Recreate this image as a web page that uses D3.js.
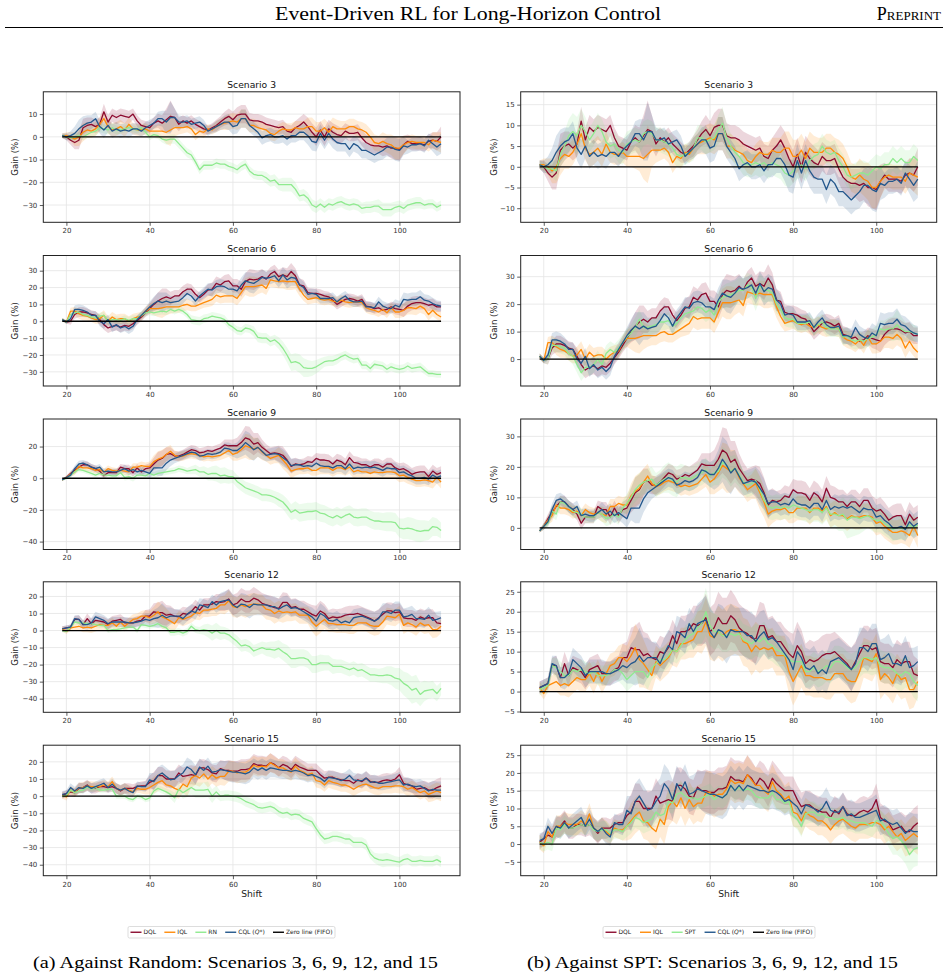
<!DOCTYPE html>
<html><head><meta charset="utf-8">
<script src="https://cdn.jsdelivr.net/npm/d3@7"></script>
<style>body{margin:0;background:#fff;} svg{display:block;}</style>
</head><body><svg id="c" width="948" height="979"></svg>
<script>
const shifts = d3.range(19, 111);
const xTicks = [20, 40, 60, 80, 100];

// ---------- Scenario 3 ----------
const dql3 = [0.5,0,-1.5,-2.5,-1.5,4,5,5.5,4.5,5.5,11,
 6.5,9.5,8.5,9.5,9,8.5,10,7,5,4.5,
 4,6,7,6,7.5,9,8.5,5.5,7,6,
 7,5.5,4.5,3.5,3,4,5,6.5,8,9,
 7.5,9.5,10,10,7.5,7,7,6.5,5.5,5,
 4.5,4,4.5,2.5,2,4,5,6.5,4.5,2,
 0,3,0,3.5,2,1,0.5,2.5,1.5,1.5,
 2,-0.5,-2.5,-3.5,-4,-4,-4.5,-4,-5,-5,
 -5.5,-3.5,-2,-3,-3,-3,-3.5,-2,-1.5,-2,0];
const iql3 = [0.5,0.5,0,-1,0,2,3,2.5,3.5,5.5,8,
 4.5,3,3.5,4.5,3,5.5,3.5,3,3,3.5,
 2.5,2.5,2.5,2.5,2,3,4,4,4,4.5,
 3.5,1,2.5,2,3.5,3,4.5,5.5,6,6.5,
 7,6.5,8,8,5,5,4,3.5,3,1.5,
 1,2.5,3.5,3,3,4,3.5,3.5,4.5,4.5,
 2.5,2.5,4,2,4.5,3.5,3.5,3.5,4.5,4.5,
 3.5,3,2,0,-2.5,-3,-2,-3,-3.5,-5,
 -5,-3.5,-2.5,-2,-2.5,-2.5,-2.5,-3.5,-1.5,-2,-2.5];
const cql3 = [0.5,0,0.5,1.5,3.5,5,6,6.5,8,4.5,3,
 5,2.5,3.5,2.5,3,2.5,3.5,3.5,2.5,4,
 5,6,8,8,6.5,8.5,8.5,6.5,6.5,7,
 5.5,6,6.5,5,2.5,3.5,4.5,5.5,6.5,6.5,
 4.5,5,8,8,5,3.5,2,-0.5,0.5,1,
 0,0,0.5,-1,0.5,0.5,2,2,0.5,-2,
 -2.5,1.5,-1.5,1.5,-1,-2.5,-3,-3,-5.5,-3,
 -4,-6,-6,-7,-8,-7,-6,-4.5,-4.5,-5.5,
 -6,-4,-4.5,-3.5,-3.5,-3,-4,-1.5,-3,-4.5,-3];
const rn3 = [0.5,0,-0.5,0,0.5,0,1,2,2.5,4,3.5,
 3,4,3,3,3.5,4,3.5,3,4,2,
 0,1,0.5,-1,-1.5,-1,-1,-3,-5,-7,
 -8,-11,-14.5,-12.5,-12.5,-12.5,-11.5,-12,-12,-13,
 -13.5,-14.5,-13,-12,-15,-16.5,-17,-17,-18,-19.5,
 -19,-21,-21,-21,-21,-23,-26,-25.5,-27,-30,
 -31,-29.5,-31,-29.5,-30,-29,-28.5,-29.5,-30,-29.5,
 -30,-31.5,-31,-31,-30.5,-30.5,-32,-32,-32,-31,
 -30.5,-31.5,-30,-29.5,-29,-29,-30,-29.5,-29.5,-31,-30];
const spt3 = [0.5,0,-0.5,-0.5,-1,3,5,7.5,8.5,7.5,10,
 8.5,6.5,8,10,8.5,6,5,5.5,4,3.5,
 5.5,6,6.5,6,8,8.5,8,6.5,6.5,6,
 5.5,4.5,3,2.5,3,3.5,4.5,7,7,6,
 6.5,7,9,10.5,7,5,3.5,2.5,1,0.5,
 0.5,1,0.5,1,0,1,0.5,0,-1.5,-2,
 -1,0,0.5,-0.5,1.5,2.5,3,5,3.5,3,
 3.5,1.5,0,-2,-2.5,-2,-1.5,-1.5,-2,-1,
 0,-0.5,0.5,0.5,2,1,2,1,1,2.5,1.5];
const std3 = [1,1.5,2,3,4,4,3.5,3,3,3,3.5,
 3,3,3,3,3,3,2.5,2.5,2.5,2.5,
 2.5,2.5,3,3.5,5,7,4,3,2.5,2.5,
 2.5,2.5,2.5,2.5,2,2,2.5,2.5,3,3.5,
 3.5,3.5,4,4,3,3,3,3,3,3,
 3,3,3,3,3,3,3.5,3.5,4,4,
 4,4,4,4,4,4,3.5,3.5,3.5,3.5,
 3.5,3.5,3.5,3.5,3.5,3.5,4,4,4.5,5,
 5,4,3,3,3,3,3,3,3.5,4,4.5];
const stdRN3 = [1,1,1,1.5,1.5,1.5,1.5,2,2,2,2,
 2,2,2,1.5,1.5,1.5,1.5,1.5,1.5,1.5,
 1.5,1.5,1.5,1.5,2,2,2,2,2,2,
 2,2,2,2,2,2,2,2,2,2,
 2,2,2,2,2,2,2,2,2.5,2.5,
 2.5,2.5,3,3,3,3,2.5,2.5,2.5,2.5,
 2.5,2.5,2.5,2.5,2.5,2.5,2.5,2.5,2.5,2.5,
 2.5,2.5,2.5,2.5,2.5,3,3,3,3,2.5,
 2.5,2.5,2.5,2.5,2.5,2.5,2,2,2,2,2];
const stdSPT3 = [1,1,1.5,2,2.5,3,3.5,4,4.5,4.5,4,
 3.5,3,3,3,3,3,3,3,3,3,
 3,3,3,3,3,3,3,3,3,3,
 3,3,3,2.5,2.5,2.5,3,3,3,3,
 3,3,3.5,4,3.5,3,3,3,3,3,
 3,3,3,3,3,3,3,3,3,3,
 3,3,3,3,3,3,3,3,3,3,
 3,3,3,3,3,3,3,3,3,3,
 3,3,3,3,3,3,3,3,3,3,3];

// ---------- Scenario 6 ----------
const dql6 = [1,-0.5,0,4,5.5,5.5,5,4,3.5,1,-2,
 -4,-3,-2.5,-3.5,-2.5,-3,-1.5,0.5,2.5,5,
 7.5,10,12,13.5,14.5,13.5,15,15,17.5,19,
 19,16,14,16,18.5,19,22.5,21.5,23.5,24,
 21,21,19,23.5,25,24.5,25,26.5,25,28,
 29.5,26.5,27.5,26.5,29.5,27,21.5,21,17,16.5,
 16.5,16,15,14.5,12.5,10,11.5,13,13.5,13,
 12,13,9,8.5,7.5,8,6.5,7,8.5,7.5,
 7,6.5,9,10.5,11,11,10.5,9.5,10,8.5,8.5];
const iql6 = [1,-0.5,6,6,4.5,3.5,3,2,1,1.5,3.5,
 0,2.5,1,1.5,1.5,0,1.5,2.5,3,6,
 7.5,7.5,7.5,8,8.5,8.5,8.5,8.5,9.5,10,
 9,9,10,11,12,13,15.5,14.5,15,15,
 15,13.5,17,20.5,20.5,20.5,21,21.5,19.5,24.5,
 24,23.5,24,23.5,23.5,23.5,19,15.5,13,13.5,
 14,13,12.5,13,12,11.5,12.5,11.5,11,11.5,
 11.5,11,8,7,6.5,5.5,7,5,8,5.5,
 5.5,6.5,8,8,7.5,9,7.5,4,6.5,4,2.5];
const cql6 = [1,-0.5,1.5,7,7,6.5,5.5,3.5,3.5,0,-1.5,
 1,-3.5,-2,-4,-3,-4.5,-3,1,3.5,6,
 8.5,10.5,12,11,12,11,11.5,12,14,16.5,
 15,12,15,17,19,18.5,20.5,21,20.5,19,
 19,18,21.5,24,23,22.5,24,26,25.5,26,
 27,24,27.5,24.5,26,25.5,21.5,20,16,16.5,
 16,13.5,13.5,13.5,14,11.5,13.5,15,12.5,11.5,
 11.5,12,8.5,8.5,8,11.5,9,8,7.5,9.5,
 8.5,13,12.5,13,13,14.5,12.5,12,10.5,9.5,9];
const rn6 = [1,-0.5,4,5,5.5,4,3.5,2.5,2,3,3.5,
 0,1,1,0.5,1.5,0.5,1.5,1.5,3.5,5,
 5.5,5,5.5,6,5.5,7,6,7,6,4,
 1,0.5,0,1.5,2,3,2.5,2,1,-2,
 -3.5,-5.5,-6,-4,-4.5,-6,-9.5,-10,-10,-12,
 -11,-13,-16,-20,-24.5,-24,-25,-27.5,-28,-28,
 -27,-25.5,-24,-23.5,-23.5,-22.5,-21,-20,-21.5,-22.5,
 -22,-26,-26,-28,-25.5,-26,-26.5,-28.5,-27,-28,
 -28.5,-28,-26.5,-28,-27.5,-27,-29,-31,-31,-31.5,-31.5];
const spt6 = [1,-0.5,0,5,5,4.5,4,2,1,-2,-5,
 -3,-3,-2,0,-2,2,3.5,2.5,4,6,
 8,9.5,11.5,14.5,11.5,11.5,12,12.5,13.5,13.5,
 14,12,13,15,16.5,17,17.5,19,18.5,17,
 18,16,20.5,22.5,23,23.5,24,25,25,27,
 26,22,26.5,25,25,24,20,18,15,14.5,
 14.5,13,13,13,13.5,11.5,12.5,13.5,11.5,11,
 11,11,8,8.5,7,6.5,7,6.5,7.5,8,
 9,11,10.5,11,11,12.5,11,10,10,9.5,9];
const std6 = [1,1,2,2.5,3,3,2.5,2.5,2.5,3,3,
 3,3,3,3,3,3,3,2.5,2.5,2.5,
 3,4,5,6,5,4,3.5,3.5,3.5,3.5,
 3,3,3,3,3.5,4,4,4,4,4,
 4,4,4.5,5,6,6,5,4.5,4,4,
 4,4,4.5,5,5,4.5,4,3.5,3,3,
 3,3,3,3,3,3,3,3,3,3,
 3,3,3,3,3,3,3,3,3,3.5,
 3.5,4,4,4,4,4,3.5,3.5,3.5,3,3];
const stdRN6 = [1,1,1.5,1.5,1.5,1.5,1.5,1.5,2,2,2,
 2,2,2,2,2,2,2,2,2,2,
 2,2,2,2,2,2,2,2,2,2,
 2.5,2.5,2.5,2.5,2.5,2.5,2.5,2.5,2.5,2.5,
 2.5,2.5,2.5,2.5,2.5,3,3,3,3,3,
 3,3.5,4,4.5,5,5,5.5,5.5,5,4.5,
 4,3.5,3,3,3,3,2.5,2.5,2.5,2.5,
 2.5,2.5,2.5,2.5,2.5,2.5,2.5,2.5,2.5,2.5,
 2.5,2.5,2.5,2.5,2.5,2.5,2.5,2,2,2,2];
const stdSPT6 = [1,1,2,2.5,2.5,2.5,2.5,2.5,3,3,3,
 3,3,3,3,3,3,3,3,3,3,
 3,3,3.5,3.5,3,3,3,3,3,3,
 3,3,3,3,3,3,3.5,3.5,3.5,3.5,
 3.5,3.5,4,4,4.5,4.5,4.5,4.5,4.5,4.5,
 4.5,4.5,4.5,4.5,4,4,3.5,3,3,3,
 3,3,3,3,3,3,3,3,3,3,
 3,3,3,3,3,3,3,3,3,3,
 3,3,3.5,4,4.5,5.5,4.5,3.5,3,3,2.5];

// ---------- Scenario 9 ----------
const dql9 = [-1,0.5,3,5,7,8.5,8.5,7,6,4.5,1.5,
 3.5,3.5,3.5,7,6,6,3.5,6.5,4,6,
 6.5,9,11.5,12.5,15,15.5,14,14,15,16.5,
 18,17.5,16,16.5,17.5,17,18,19,21,20.5,
 20.5,20.5,22.5,25.5,24.5,21.5,22.5,19.5,17.5,15.5,
 16,15.5,14.5,11.5,7.5,9,8.5,9,10.5,10,
 12.5,11.5,11.5,11,9,11.5,10.5,8.5,13,10,
 9.5,8.5,8.5,7,8.5,8.5,7,9,9,6.5,
 5.5,6,4.5,2.5,3.5,4,4,1,4.5,2.5,3.5];
const iql9 = [-1,0.5,2.5,4,7.5,6.5,6.5,6,5,5.5,4,
 6,5,4.5,5,4.5,4,7,7,8,7.5,
 7.5,10.5,12,13,15,17,14.5,13.5,14,15,
 15.5,15,14.5,13.5,14,13.5,14,14.5,16,17.5,
 15,16,18,20.5,19.5,18.5,19.5,16.5,14.5,12.5,
 13.5,14.5,11.5,8.5,4.5,5.5,6,6,6.5,5,
 5,6.5,6.5,6.5,5,6.5,6.5,5.5,7,4,
 5,4,4,3,4,3.5,3.5,4,4,3.5,
 1.5,2,0.5,-0.5,-1.5,-1.5,-1,-1.5,-2.5,0.5,-2.5];
const cql9 = [-1,0.5,2,6,9,9.5,8.5,7,6,7,4,
 4.5,4,4,5,6,4.5,5.5,4,5,4,
 3,6.5,6.5,6.5,9.5,11.5,12.5,13.5,14.5,15.5,
 16.5,16,14,14.5,15.5,15,15.5,16.5,19,18.5,
 17.5,17.5,19.5,22.5,20.5,18,19.5,17,14.5,15,
 15.5,15,13,11,8,8.5,8.5,7.5,8,7.5,
 9.5,8,7.5,7.5,6.5,8,8,6,9,6,
 7,6.5,7,6.5,7,6,5,6.5,6,6,
 3.5,4,2.5,1.5,0,0,0.5,-0.5,2,0.5,1.5];
const rn9 = [-1,0,2,4,5.5,5,4,3,2,3,2,
 2,1.5,1.5,3.5,0.5,1,0,2,2,1.5,
 3,2,3,3.5,4,4.5,5,6,5.5,4.5,
 5,5.5,4,4,2.5,3,3,1.5,2,1,
 1,-2,-4,-6,-7,-8,-9,-10.5,-10.5,-11,
 -12,-13.5,-15,-18,-21.5,-20,-22,-21.5,-21,-21,
 -20.5,-22,-22.5,-24,-25,-23.5,-25,-23.5,-22.5,-24.5,
 -25,-24.5,-24.5,-26,-27,-27,-27.5,-27.5,-27.5,-28,
 -31.5,-32,-31.5,-32,-33,-33.5,-33,-33,-30.5,-31,-33];
const spt9 = [-1,0.5,1.5,5.5,4.5,8.5,8,7,5.5,5,4.5,
 3.5,3.5,3.5,5,4.5,3,3.5,4.5,3.5,6.5,
 8,10,12.5,14,15,15.5,16,14,15,16,
 16.5,15.5,15,16.5,16.5,16,16.5,17.5,18,19,
 17,18,18.5,21.5,20.5,18.5,19.5,17.5,15,14,
 14.5,15.5,12.5,9,7,6.5,7,6.5,7,6.5,
 7.5,7,6.5,6,5.5,6,6,5,6.5,4.5,
 4.5,4,4.5,2.5,3.5,3.5,3,3.5,4,3,
 2.5,2.5,1.5,0.5,-0.5,0,0,-0.5,1,0,1];
const std9 = [0.5,1,1.5,2,2,2,2,2,2,2,2,
 2,2,2,2,2.5,2.5,2.5,2.5,2.5,2.5,
 3,4,5,5,4.5,4,3,3,3,3,
 3,3,3,3,3,3,3,3,3.5,4,
 4,5,6,7.5,8,7,6,5,4,4,
 4,5,5.5,5,4.5,4,3.5,3.5,3.5,3.5,
 3.5,4,4,4,4,4,4,4,4,4,
 4,4,4,4,4,4,4,4,4,4,
 4,4,4,4,4,4,4,4,4,4,4];
const stdRN9 = [0.5,1,1.5,1.5,1.5,1.5,1.5,1.5,1.5,1.5,1.5,
 1.5,1.5,1.5,2,2,2,2,2,2,2,
 2,2,2,2,2,2,2,2,2,2,
 2.5,3,3,3.5,4,4.5,5,5,5,4.5,
 4,4,4,4,4,4,4,4,4,4,
 4,4.5,4.5,5,5,5.5,5.5,5.5,5.5,5.5,
 5.5,5.5,5.5,5.5,5.5,5.5,5.5,5.5,5.5,5.5,
 5.5,5.5,5.5,5.5,5.5,5.5,5.5,6,6,6,
 6,6.5,7,7,7,7,6.5,6,6,5.5,5];
const stdSPT9 = [0.5,1,1.5,2,2,2,2,2,2,2,2,
 2,2,2,2,2.5,2.5,2.5,2.5,2.5,2.5,
 3,3.5,4,4,4,4,4,4,4,4.5,
 5,5,5,4.5,4,4,4,4,4,4,
 4,4,4.5,5,5,5,4.5,4,4,4,
 4,4,4,4,4,4,4,4,4,4,
 4,4,4,4,4,4,4,4,4,4.5,
 4.5,5,5.5,6,6.5,6,5,4.5,4,4,
 4,4,4,4,4,4,4,3.5,3.5,3,3];

// ---------- Scenario 12 ----------
const dql12 = [1,1.5,2,6.5,6.5,3.5,7,4,6,5.5,5,
 3.5,5.5,6,6.5,4.5,4.5,4.5,5.5,6,8.5,
 8.5,11,10.5,10.5,9,9.5,8.5,8,10,9.5,
 11,14,12,15,15,15.5,17,16.5,17,18.5,
 15,16,18.5,17,17,19,18,16,15,14.5,
 13.5,13,16.5,16.5,13.5,14,12.5,12.5,11,9.5,
 8.5,11.5,10,7,8,7.5,8,9,9.5,9.5,
 10,9,8,7,5.5,7.5,9.5,11.5,11.5,10.5,
 11,7.5,7,7,6,8,7,7.5,7.5,4.5,4];
const iql12 = [1,-0.5,1.5,2,2.5,1.5,2,1.5,2.5,3.5,3,
 3,4.5,2.5,5,2.5,4.5,6.5,7,8.5,8.5,
 7.5,9,11,8,7,5.5,4,7.5,6.5,7.5,
 8.5,10.5,10,12,12,12.5,13,15,15,17.5,
 14,13.5,15,14,15,15.5,15.5,15,12.5,12,
 10,11.5,10.5,11,10.5,11,9,9,9,5,
 2.5,4.5,6.5,4,4,3.5,3.5,3.5,3,3,
 4.5,4.5,4.5,3,2.5,2.5,5,8.5,8,7.5,
 9.5,3,4.5,3.5,2,4.5,3,3.5,0.5,0.5,2.5];
const cql12 = [1,1.5,2,7,6.5,3.5,3.5,4.5,8,7,6,
 4,5,5,5,5,4.5,4.5,5,5.5,6.5,
 6,7,7.5,9,7.5,8.5,8.5,8.5,7,9.5,
 11.5,10.5,15,14.5,13.5,17,15,17,17.5,18,
 15,13.5,15.5,15,13.5,15.5,15,15,15,14,
 14,12.5,14,15,13,13.5,12.5,11,9.5,8,
 5.5,10,8.5,6,5.5,6.5,4.5,5.5,4.5,7.5,
 8,8.5,7.5,6.5,5.5,7,11,11,10,12,
 12,8,8.5,9.5,7,7,6.5,9,6,6.5,7.5];
const rn12 = [0,-0.5,2,5,4.5,4.5,4,4,3.5,3,3,
 0,0.5,0.5,1,1.5,2,2,0,3.5,3,
 2.5,3,4,2.5,1.5,-1,-1,-0.5,-1.5,-0.5,
 2.5,0.5,0,0.5,0,-1.5,0,-1.5,-1.5,-2.5,
 -4.5,-6.5,-9,-8.5,-9.5,-12,-11,-10,-11,-11,
 -11.5,-10.5,-12.5,-14,-16.5,-16.5,-16,-16,-17,-20,
 -20,-19,-19,-19,-21,-21,-21,-22,-23,-22,
 -23.5,-23,-24.5,-26,-26,-26.5,-26.5,-26,-26.5,-28,
 -28.5,-31,-32.5,-35,-34,-37.5,-35.5,-35,-34.5,-37,-34];
const spt12 = [0.5,1,1.5,6.5,6,5,4,4,5.5,5,5.5,
 5,4.5,5,4,4,4,4.5,5.5,5.5,4.5,
 3,4,5,5,5,3.5,6,7,8,8,
 9,10.5,10,11.5,13,14,14.5,16,17,20,
 16.5,15,15,14,14,14.5,14,14.5,13,12.5,
 12,13,12.5,13.5,12,11.5,10.5,10,9,8,
 7.5,7.5,7.5,5,5,6,5,5.5,6.5,6,
 7.5,7.5,7,6,5.5,6,7.5,8.5,8.5,8,
 8.5,6.5,6,6,5.5,4.5,4,5,4.5,2.5,1.5];
const std12 = [1.5,1.5,1.5,2,2.5,2.5,3,3,3,3,3,
 3,3,3,3,3,3,3,3,3,3.5,
 4,5,6,7,6,5,4,4,4,4,
 4,4,4,4,4,4,4.5,5,5.5,6,
 6,6,6.5,6.5,6.5,6.5,6,6,6,6,
 6,6,6,5.5,5,5,5,5,5,5.5,
 6,6,5.5,5,5,5,5,5,5,5,
 5,5,5,5,5.5,5,5,5,5,5,
 5,5,5,5,5,5,5,5,5,4.5,4];
const stdRN12 = [1,1,1.5,1.5,1.5,1.5,1.5,1.5,1.5,1.5,1.5,
 1.5,1.5,1.5,1.5,1.5,1.5,1.5,1.5,1.5,1.5,
 1.5,1.5,1.5,1.5,1.5,2,2,2,2,2,
 2,2,2,3,4,4.5,4.5,4,3.5,3.5,
 3.5,3.5,3.5,3.5,3.5,3.5,3.5,3.5,4,4.5,
 5,5,5,5.5,5.5,5.5,5,5,5,5,
 5,5,4.5,4.5,4.5,4,4,4,4,4,
 4,4,4,4,4,4,4.5,5,5.5,6,
 6.5,7,7.5,8,8,7,6,5,5,4.5,4];
const stdSPT12 = [1.5,1.5,2,2,2.5,2.5,2.5,2.5,2.5,2.5,2.5,
 2.5,2.5,2.5,2.5,2.5,2.5,2.5,2.5,3,3,
 3,3,3,3,3,3,3,3,3,3,
 3,3,3,3,3.5,3.5,4,4.5,5,6,
 5,4.5,4,4,4,4,4,4,4,4,
 4,4,4,4,4,4,4,4,4,4,
 4,4,4,4,4,4,4,4,4,4,
 4,4,4,4,4,4,4,4,4,4,
 4,4,4,4,4,4,4,4,4,4,4];

// ---------- Scenario 15 ----------
const dql15 = [0.5,1.5,2.5,2,4.5,5,6.5,4.5,4.5,5.5,5.5,
 5,5.5,4.5,3,4.5,4.5,4.5,5.5,6,6,
 8,9,12,12,10,10,10,13.5,11.5,12,
 12.5,12,16.5,16.5,15.5,13.5,13,16,15,15,
 14.5,14.5,15.5,15.5,16,19,18,18,17.5,19.5,
 18.5,16.5,18.5,17.5,15.5,18.5,17,16,15,15,
 15,12.5,10.5,11,11,10,9.5,9,9,7.5,
 9.5,8.5,10.5,8.5,8,8,9,9.5,9,10,
 12.5,7.5,6.5,6,4,4.5,5,3.5,3.5,5,6];
const iql15 = [0.5,-0.5,3.5,2,5,5,6,5.5,5.5,5.5,6.5,
 5.5,8.5,4.5,3.5,4.5,3.5,2.5,4.5,4,4,
 5,6.5,8,9,6.5,6,4.5,3.5,7,5.5,
 10.5,12,10.5,13,10,12.5,10.5,11.5,11.5,14.5,
 14.5,13.5,14,14,15.5,18,17,17.5,17,19.5,
 18,16.5,16.5,15,14,17.5,15,14,12.5,13.5,
 9,8.5,6.5,9,8,7.5,6.5,6.5,5.5,4,
 5.5,6.5,7,6,5,4.5,5.5,5.5,5.5,6,
 6,5.5,4,5,3.5,2,3,1,2,3,2];
const cql15 = [1,1.5,5,3,5,4.5,6,4.5,5.5,6.5,7.5,
 5,7,4.5,3.5,4.5,3,2,6,5.5,5.5,
 9.5,8.5,12,13.5,11.5,9.5,10,12,13.5,17,
 15.5,12.5,17,15,17.5,14,14.5,15.5,15,14.5,
 14,14,13.5,13,14,16.5,15,16.5,15,16.5,
 16,15.5,15,15,14.5,15,14.5,13.5,12,12.5,
 11.5,10.5,8.5,11,10.5,10,9,10,12,9.5,
 9,9,10.5,8,8.5,7.5,7.5,8,8.5,9,
 9.5,6.5,7,6,5.5,6,4.5,3,4,3.5,3.5];
const rn15 = [0,0.5,3.5,2,3,3.5,5.5,4,5,3.5,3.5,
 4,4,0,0,0,-1.5,-2,0,-0.5,-2,
 -1,3,4.5,3.5,2.5,1,-1,4,2,3.5,
 5,3.5,3.5,3.5,4,0,2.5,0,0.5,0.5,
 0,-0.5,-1.5,-3,-4,-5,-6.5,-7,-6.5,-6,
 -7,-9,-10,-9.5,-11,-10.5,-11,-13,-14,-15,
 -19,-22.5,-25,-24.5,-23.5,-23.5,-24,-25,-25,-27,
 -27,-27,-28.5,-33.5,-36,-37,-37.5,-37,-37.5,-38,
 -38.5,-37,-36.5,-38,-38,-37.5,-38,-38,-38,-37,-38.5];
const spt15 = [0.5,0,0.5,0,4.5,4,5.5,4.5,4.5,5,5.5,
 5,5.5,4,3.5,4,4,3,4,4,3.5,
 5,6,7.5,7,6,6.5,7,9,8,8.5,
 12,11.5,14,14.5,13.5,13,13,12.5,13,13.5,
 14,12.5,13.5,13,14,16.5,15,16,15,15.5,
 15,13.5,13,13,13,14.5,12.5,12.5,11.5,12,
 8,7,5,8.5,9,9,8,8.5,7.5,7.5,
 7,7,7.5,6.5,6.5,6,6,6,5.5,5,
 6.5,6.5,5,3,1.5,2,1,-0.5,-3,-1.5,-1];
const std15 = [2,2,2.5,2.5,3,3,3,3,3,3,3,
 3,3,3,3,3,3,2.5,2.5,2.5,3,
 4,5,5,5,5,5,5,5,5,5.5,
 5.5,5.5,5,5,5,5,5,5,5.5,6,
 6,6,6,6,6,5.5,5.5,5.5,5.5,5.5,
 5,5,5,5,5,5,5,4.5,4,4,
 4,4,4,4,4,4,4,4,4,4,
 4,4,4,4,4,4,4,4,4,4,
 4.5,4,4,4,4,4,4,4.5,5,5,5];
const stdRN15 = [1,1,1.5,1.5,1.5,1.5,1.5,1.5,1.5,1.5,1.5,
 1.5,1.5,1.5,1.5,1.5,1.5,1.5,1.5,1.5,1.5,
 2,2,2,2,2,2.5,3,3,3.5,4,
 4,4.5,4.5,4.5,4.5,4,3.5,3,3,3,
 3,3,3,3,3,3,3,3,3,3,
 3,3,3,3,3,3,3,3,3,3,
 3,3,3,3,3,3,3,3,3,3,
 3,3,3,3,3,3.5,4,4,3.5,3,
 3,3,3,3,3,3,3,3,3,3,3];
const stdSPT15 = [2,2,2,2,2.5,2.5,2.5,2.5,2.5,2.5,2.5,
 2.5,2.5,2.5,2.5,2.5,2.5,2.5,2.5,2.5,2.5,
 3,3,3,3,3,3,3,3,3,3,
 3,3,3,3,3,3,3,3,3,3,
 3,3,3,3,3,3,3,3,3,3,
 3,3,3,3,3,3,3,3,3,3,
 3,3,3,3,3,3,3,3,3,3,
 3,3,3,3,3,3,3,3,3,3,
 3,3,3.5,4,4.5,5,5,5,5,5,5];

// ---------- axis limits & ticks ----------
const yLimLeft  = [[-37.6,19.8],[-38.4,39.0],[-45.0,37.4],[-48.0,28.6],[-46.4,29.7]];
const yLimRight = [[-13.4,18.1],[-9.8,37.7],[-7.1,35.7],[-5.2,27.5],[-8.9,27.8]];
const yTicksLeft = [[-30,-20,-10,0,10],[-30,-20,-10,0,10,20,30],[-40,-20,0,20],[-40,-30,-20,-10,0,10,20],[-40,-30,-20,-10,0,10,20]];
const yTicksRight = [[-10,-5,0,5,10,15],[0,10,20,30],[0,10,20,30],[-5,0,5,10,15,20,25],[-5,0,5,10,15,20,25]];
const scenarioNames = ["Scenario 3","Scenario 6","Scenario 9","Scenario 12","Scenario 15"];

const seriesNamesLeft = ["DQL","IQL","RN","CQL"];
const seriesNamesRight = ["DQL","IQL","SPT","CQL"];
const colors = ["#8c0b2f","#ff8c0a","#8fea8f","#23578c"];

const leftData = [
  {s:[dql3,iql3,rn3,cql3], sd:[std3,std3,stdRN3,std3]},
  {s:[dql6,iql6,rn6,cql6], sd:[std6,std6,stdRN6,std6]},
  {s:[dql9,iql9,rn9,cql9], sd:[std9,std9,stdRN9,std9]},
  {s:[dql12,iql12,rn12,cql12], sd:[std12,std12,stdRN12,std12]},
  {s:[dql15,iql15,rn15,cql15], sd:[std15,std15,stdRN15,std15]}
];
const rightData = [
  {s:[dql3,iql3,spt3,cql3], sd:[std3,std3,stdSPT3,std3]},
  {s:[dql6,iql6,spt6,cql6], sd:[std6,std6,stdSPT6,std6]},
  {s:[dql9,iql9,spt9,cql9], sd:[std9,std9,stdSPT9,std9]},
  {s:[dql12,iql12,spt12,cql12], sd:[std12,std12,stdSPT12,std12]},
  {s:[dql15,iql15,spt15,cql15], sd:[std15,std15,stdSPT15,std15]}
];
const zeroLine = shifts.map(() => 0);

// ---------- layout ----------
const svg = d3.select("#c");
svg.append("rect").attr("width",948).attr("height",979).attr("fill","#fff");
const cols = [{x0:43.3, x1:460, ylab:15}, {x0:520.7, x1:936.7, ylab:494.5}];
const rowTops = [91.8, 255.5, 419, 581.8, 745.2];
const rowH = 130.5;
const xLim = [14.45, 114.55];
const sans = "DejaVu Sans, sans-serif";
const serif = "Liberation Serif, DejaVu Serif, serif";

// header
svg.append("text").attr("x",468).attr("y",20).attr("text-anchor","middle")
  .attr("font-family",serif).attr("font-size",18.5)
  .attr("textLength",386).attr("lengthAdjust","spacingAndGlyphs")
  .text("Event-Driven RL for Long-Horizon Control");
svg.append("text").attr("x",941).attr("y",20).attr("text-anchor","end")
  .attr("font-family",serif).attr("font-size",18).style("font-variant","small-caps")
  .text("Preprint");
svg.append("line").attr("x1",5).attr("x2",943).attr("y1",27.5).attr("y2",27.5)
  .attr("stroke","#000").attr("stroke-width",1);

let clipId = 0;
function drawPanel(col, row, data, yLim, yTicks, title, showX) {
  const top = rowTops[row], bot = top + rowH;
  const x = d3.scaleLinear().domain(xLim).range([col.x0, col.x1]);
  const y = d3.scaleLinear().domain(yLim).range([bot, top]);
  const g = svg.append("g");
  const id = "clip" + (clipId++);
  g.append("clipPath").attr("id", id).append("rect")
    .attr("x", col.x0).attr("y", top).attr("width", col.x1 - col.x0).attr("height", rowH);
  const grid = g.append("g").attr("stroke","#e4e4e4").attr("stroke-width",0.8);
  xTicks.forEach(t => grid.append("line").attr("x1",x(t)).attr("x2",x(t)).attr("y1",top).attr("y2",bot));
  yTicks.forEach(t => grid.append("line").attr("x1",col.x0).attr("x2",col.x1).attr("y1",y(t)).attr("y2",y(t)));
  const plot = g.append("g").attr("clip-path", `url(#${id})`);
  data.s.forEach((s, i) => {
    const sd = data.sd[i];
    const area = d3.area().x((d, j) => x(shifts[j])).y0((d, j) => y(s[j] - sd[j])).y1((d, j) => y(s[j] + sd[j]));
    plot.append("path").datum(s).attr("d", area).attr("fill", colors[i]).attr("fill-opacity", 0.17);
  });
  data.s.forEach((s, i) => {
    const line = d3.line().x((d, j) => x(shifts[j])).y(d => y(d));
    plot.append("path").datum(s).attr("d", line).attr("fill","none")
      .attr("stroke", colors[i]).attr("stroke-width", 1.3).attr("stroke-linejoin","round");
  });
  plot.append("path").datum(zeroLine)
    .attr("d", d3.line().x((d, j) => x(shifts[j])).y(d => y(d)))
    .attr("fill","none").attr("stroke","#000").attr("stroke-width",1.3);
  const ax = g.append("g").attr("transform",`translate(0,${bot})`)
    .call(d3.axisBottom(x).tickValues(xTicks).tickSize(3.5).tickPadding(2.5));
  const ay = g.append("g").attr("transform",`translate(${col.x0},0)`)
    .call(d3.axisLeft(y).tickValues(yTicks).tickSize(3.5).tickPadding(2.5));
  [ax, ay].forEach(a => {
    a.select(".domain").remove();
    a.selectAll("line").attr("stroke","#333").attr("stroke-width",0.8);
    a.selectAll("text").attr("font-family",sans).attr("font-size",7).attr("fill","#333");
  });
  g.append("rect").attr("x",col.x0).attr("y",top).attr("width",col.x1-col.x0).attr("height",rowH)
    .attr("fill","none").attr("stroke","#222").attr("stroke-width",1);
  g.append("text").attr("x",(col.x0+col.x1)/2).attr("y",top-3.5).attr("text-anchor","middle")
    .attr("font-family",sans).attr("font-size",9.2).attr("fill","#111").text(title);
  g.append("text").attr("transform",`translate(${col.ylab},${(top+bot)/2}) rotate(-90)`)
    .attr("text-anchor","middle").attr("dominant-baseline","middle")
    .attr("font-family",sans).attr("font-size",8.6).attr("fill","#222").text("Gain (%)");
  if (showX) {
    g.append("text").attr("x",(col.x0+col.x1)/2).attr("y",bot+21.5).attr("text-anchor","middle")
      .attr("font-family",sans).attr("font-size",9.2).attr("fill","#222").text("Shift");
  }
}

for (let r = 0; r < 5; r++) {
  drawPanel(cols[0], r, leftData[r], yLimLeft[r], yTicksLeft[r], scenarioNames[r], r === 4);
  drawPanel(cols[1], r, rightData[r], yLimRight[r], yTicksRight[r], scenarioNames[r], r === 4);
}

// legends
function legend(x0, x1, names) {
  const g = svg.append("g");
  const y0 = 926.5, h = 11.5;
  g.append("rect").attr("x",x0).attr("y",y0).attr("width",x1-x0).attr("height",h).attr("rx",1.5)
    .attr("fill","#fff").attr("stroke","#cfcfcf").attr("stroke-width",0.7);
  const labels = names.concat(["Zero line (FIFO)"]);
  const cols5 = colors.concat(["#000"]);
  const items = labels.map((n, i) => {
    const it = g.append("g");
    it.append("line").attr("x1",0).attr("x2",11).attr("y1",0).attr("y2",0)
      .attr("stroke",cols5[i]).attr("stroke-width",1.4);
    const t = it.append("text").attr("x",13).attr("y",2.1).attr("font-family",sans)
      .attr("font-size",6).attr("fill","#222");
    if (n === "CQL") { t.append("tspan").text("CQL ("); t.append("tspan").attr("font-style","italic").text("Q"); t.append("tspan").text("*)"); }
    else t.text(n);
    return {it, w: 13 + t.node().getComputedTextLength()};
  });
  const total = d3.sum(items, d => d.w);
  const pad = 2.5;
  const gap = ((x1 - x0) - 2 * pad - total) / (items.length - 1);
  let cx = x0 + pad;
  items.forEach(d => { d.it.attr("transform",`translate(${cx},${y0 + h/2})`); cx += d.w + gap; });
}
legend(128, 335, seriesNamesLeft);
legend(603, 815, seriesNamesRight);

// captions
svg.append("text").attr("x",235.5).attr("y",968).attr("text-anchor","middle")
  .attr("font-family",serif).attr("font-size",17.5)
  .attr("textLength",405).attr("lengthAdjust","spacingAndGlyphs")
  .text("(a) Against Random: Scenarios 3, 6, 9, 12, and 15");
svg.append("text").attr("x",712.5).attr("y",968).attr("text-anchor","middle")
  .attr("font-family",serif).attr("font-size",17.5)
  .attr("textLength",371).attr("lengthAdjust","spacingAndGlyphs")
  .text("(b) Against SPT: Scenarios 3, 6, 9, 12, and 15");
</script></body></html>
